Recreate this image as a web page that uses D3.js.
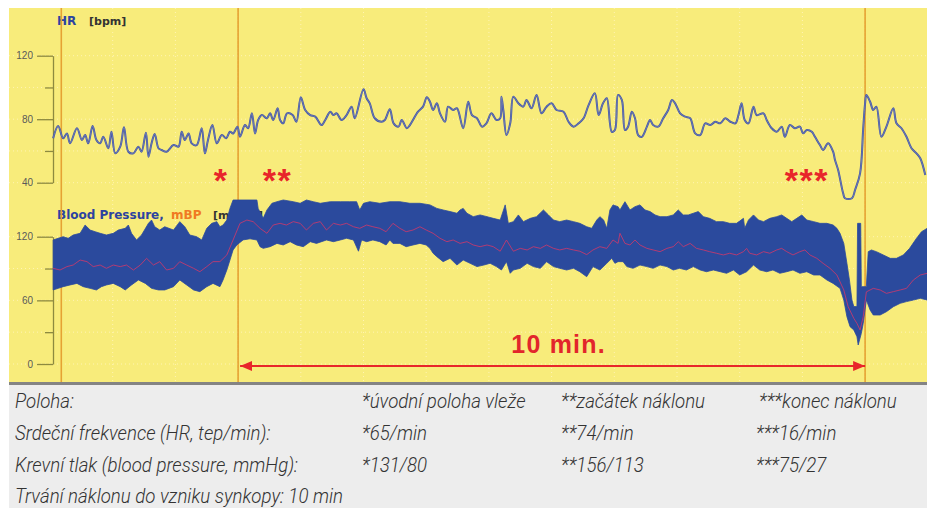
<!DOCTYPE html>
<html lang="cs">
<head>
<meta charset="UTF-8">
<title>Tilt test – HR a krevní tlak</title>
<style>
    html, body { margin: 0; padding: 0; background: #fff; }
    svg { display: block; font-family: "Liberation Sans", Arial, sans-serif; }
    .axis path, .axis line { stroke: #8d8a3f; stroke-width: 1.3; }
    .axis text { fill: #5a5a5a; font-size: 10px; font-family: "Liberation Sans", Arial, sans-serif; }
    .lbl { font-family: "DejaVu Sans", sans-serif; font-weight: bold; }
    .table text { font-family: Roboto, "Open Sans", sans-serif; font-style: italic; font-weight: 300; font-size: 20px; fill: #333; }
</style>
</head>
<body>
<svg id="svg" width="927" height="508"></svg>
<script src="https://d3js.org/d3.v7.min.js"></script>
<script>
// time in minutes from start of recording
const hrTime = [0.05,0.13,0.21,0.27,0.32,0.43,0.51,0.56,0.61,0.68,0.74,0.80,0.85,0.93,0.98,1.04,1.12,1.18,1.25,1.33,1.41,1.46,1.53,1.57,1.62,1.67,1.73,1.78,1.86,1.97,2.05,2.10,2.15,2.21,2.26,2.34,2.42,2.47,2.52,2.59,2.66,2.74,2.81,2.87,2.92,2.99,3.03,3.11,3.16,3.22,3.27,3.32,3.38,3.46,3.51,3.56,3.63,3.67,3.72,3.78,3.87,3.93,4.00,
    4.07,4.15,4.23,4.33,4.39,4.47,4.52,4.57,4.65,4.73,4.81,4.86,5.00,5.05,5.10,5.18,5.29,5.34,5.42,5.48,5.56,5.61,5.69,5.74,5.87,5.95,6.01,6.06,6.11,6.17,6.22,6.30,6.35,6.43,6.49,6.59,6.67,6.73,6.81,6.89,6.96,7.04,7.12,7.18,7.20,7.23,7.28,7.34,7.39,7.47,7.55,7.60,7.68,7.76,7.84,7.92,8.00,8.08,8.19,8.27,8.35,8.43,8.51,8.59,8.69,8.75,8.82,8.88,8.96,9.01,
    9.06,9.12,9.17,9.22,9.28,9.33,9.38,9.44,9.52,9.57,9.62,9.70,9.78,9.86,9.92,9.97,10.05,10.13,10.21,10.29,10.37,10.45,10.53,10.61,10.69,10.77,10.85,10.93,10.98,11.03,11.08,11.14,11.22,11.27,11.38,11.43,11.51,11.59,11.67,11.72,11.80,11.88,11.96,12.01,12.07,12.15,12.20,12.28,12.33,12.41,12.49,12.52,12.57,12.65,12.68,12.79,12.84,12.92,12.97,13.00,13.02,13.08,13.13,13.18,13.26,13.34,13.45,13.50,13.58,13.66,13.74,13.82,13.88,13.96];
const hrValues = [68,75.7,68,71,64.8,74.3,66.9,70,64.8,75.7,66.9,64.8,69,61.7,72.1,58.5,62.7,74.9,59.5,58.5,62.7,59.5,71.5,56.4,64.8,70.7,61.7,60.6,59.5,63.7,62.7,72.1,66.9,71,64.8,63.7,74.3,58.5,66.9,76.3,64.8,70,68,72.1,71,75.3,69,76.3,74.3,83.7,71,79.5,82.6,80.6,83.7,79.5,86.9,79.5,77.4,83.7,82.6,78.4,93.8,
    85.8,82.6,81.6,76.3,79.5,84.7,82.6,83.7,79.5,82.6,87.9,80.6,98.8,93.2,90,80.6,78.4,79.5,86.2,77.4,75.3,79.5,74.3,76.3,84.7,87.9,93.8,91,85.8,90,83.7,78.4,87.9,85.8,86.9,74.3,91,82.6,80.6,75.3,77.4,83.7,79.5,80.6,94.2,85.8,70,77.4,94.2,90,87.9,92.1,86.9,95.2,83.7,87.9,90,85.8,84.7,78.4,75.3,77.4,80.6,88.9,96.3,82.6,90,93.2,72.1,73.2,
    95.2,92.1,73.2,75.3,84.7,80.6,70,68.9,75.3,79.5,76.3,75.3,80.6,85.8,92.1,90,83.7,81.6,80.6,71.1,70,77.4,76.3,78.4,77.4,80.6,78.4,77.4,82.6,90,79.5,77.4,87.9,82.6,83.7,79.5,74.3,72.1,75.3,68.9,76.3,74.3,75.3,71.1,73.2,72.1,68.9,63.7,60.6,64.8,59.5,54.3,48,33.3,30.2,30.2,35.4,45.9,74.3,90,95.2,91,85.8,87.9,68.9,75.3,86.9,77.4,74.3,68.9,61.7,58.5,55.4,44.8];

// systolic envelope
const sysTime = [0.05,0.13,0.21,0.29,0.37,0.48,0.56,0.64,0.72,0.80,0.90,1.01,1.09,1.20,1.25,1.30,1.38,1.46,1.57,1.62,1.67,1.75,1.83,1.97,2.07,2.15,2.23,2.34,2.42,2.50,2.58,2.66,2.71,2.76,2.82,2.87,2.92,3.30,3.32,3.40,3.46,3.54,3.62,3.72,3.88,3.99,4.09,4.20,4.31,
    4.47,4.63,4.78,4.89,4.94,5.00,5.10,5.26,5.42,5.58,5.74,5.90,6.06,6.17,6.27,6.38,6.49,6.54,6.59,6.65,6.75,6.86,6.97,7.07,7.18,7.26,7.31,7.39,7.47,7.55,7.66,7.76,7.87,7.95,8.03,8.13,8.24,8.35,8.45,8.56,8.64,8.72,8.77,8.83,8.88,8.93,8.98,9.06,
    9.09,9.17,9.25,9.33,9.41,9.49,9.57,9.65,9.73,9.84,9.94,10.02,10.10,10.18,10.26,10.34,10.42,10.52,10.63,10.74,10.84,10.95,11.06,11.08,11.14,11.22,11.30,11.38,11.48,11.59,11.67,11.75,11.83,11.91,11.99,12.07,12.18,12.28,12.39,12.49,12.55,12.60,12.66,12.71,12.75,12.79,12.82,12.87,12.88,12.93,12.94,13.02,13.05,13.10,13.18,13.29,13.40,13.50,13.61,13.71,13.82,13.90,13.99];
const sysValues = [116.9,118.5,120,118.5,121.6,123.2,131,126.3,124.7,123.2,121.6,123.2,126.3,127.9,131,123.2,116.9,121.6,132.6,135.7,129.4,126.3,129.4,126.3,134.2,129.4,121.6,120,116.9,127.9,132.6,134.2,129.4,131,135.7,146.7,154.6,154.6,146.7,137.3,145.2,151.5,153,154.6,153,151.5,154.6,153,151.5,
    153,153,153,153,145.2,151.5,153,151.5,153,153,151.5,151.5,150,146.7,145.2,143.7,142.1,145.2,146.7,142.1,138.9,140.5,138.9,137.3,135.7,150,132.6,134.2,140.5,134.2,137.3,138.9,145.2,140.5,135.7,134.2,135.7,134.2,132.6,129.4,127.9,135.7,138.9,135.7,127.9,145.2,150,148.3,
    145.2,153,145.2,148.3,150,145.2,143.7,140.5,138.9,138.9,140.5,145.2,140.5,140.5,142.1,143.7,138.9,137.3,134.2,134.2,132.6,132.6,137.3,127.9,135.7,140.5,135.7,134.2,137.3,138.9,140.5,137.3,134.2,137.3,140.5,135.7,134.2,132.6,132.6,131,127.9,123.2,113.7,94.9,79.2,60.3,54.1,54.1,132.6,132.6,72.9,72.9,105.9,107.5,105.9,102.8,99.6,99.6,102.8,109,118.5,124.7,127.9];

// diastolic envelope
const diaTime = [0.05,0.13,0.21,0.32,0.43,0.53,0.64,0.74,0.82,0.90,1.01,1.12,1.20,1.30,1.41,1.52,1.62,1.73,1.83,1.97,2.07,2.18,2.29,2.39,2.50,2.60,2.71,2.76,2.82,2.87,2.92,2.98,3.08,3.19,3.30,3.35,3.40,3.51,3.62,3.72,3.83,3.93,4.04,4.15,4.25,
    4.41,4.52,4.63,4.73,4.84,4.92,4.97,5.05,5.15,5.26,5.36,5.42,5.47,5.58,5.68,5.79,5.90,6.00,6.06,6.11,6.17,6.27,6.38,6.49,6.59,6.70,6.81,6.92,7.02,7.12,7.20,7.28,7.34,7.39,7.50,7.61,7.71,7.82,7.92,8.03,8.13,8.24,8.35,8.45,8.56,8.66,8.77,8.88,8.96,9.01,9.06,
    9.14,9.20,9.30,9.41,9.52,9.62,9.73,9.84,9.94,10.04,10.15,10.26,10.37,10.47,10.58,10.69,10.79,10.90,11.00,11.11,11.22,11.32,11.43,11.53,11.64,11.75,11.85,11.96,12.07,12.18,12.28,12.39,12.49,12.60,12.66,12.71,12.76,12.82,12.87,12.89,12.94,12.97,13.02,13.08,13.13,13.24,13.34,13.45,13.56,13.66,13.77,13.88,13.99];
const diaValues = [69.8,71.3,72.9,74.5,76,72.9,71.3,69.8,72.9,74.5,76,72.9,69.8,74.5,79.2,76,71.3,69.8,69.8,72.9,79.2,74.5,69.8,68.2,72.9,76,72.9,79.2,88.6,98,107.5,112.2,117,118,116.9,110.6,109,110.6,113.7,112.2,115.3,112.2,110.6,115.3,113.7,
    116.9,115.3,116.9,118.5,116.9,106.3,116.9,115.3,116.9,115.3,112.2,116.9,113.7,113.7,110.6,112.2,113.7,112.2,109,104.4,101.2,96.5,99.6,93.3,98,94.9,91.8,93.3,94.9,91.8,88.6,96.5,85.5,88.6,90.2,94.9,91.8,90.2,96.5,91.8,90.2,88.6,90.2,87,82.3,91.8,88.6,94.9,99.6,94.9,96.5,
    96.5,91.8,90.2,93.3,91.8,90.2,93.3,91.8,88.6,90.2,88.6,91.8,88.6,87,88.6,87,85.5,88.6,83.9,87,93.3,88.6,87,88.6,85.5,87,88.6,85.5,87,83.9,83.9,79.2,76,71.3,60.3,44.6,35.2,32.1,25.8,17.9,28.9,38.3,60.3,50.9,46.2,46.2,49.3,54,57.2,58.8,60.3,61.9,60.3];

// mean blood pressure
const mbpTime = [0.05,0.16,0.27,0.37,0.48,0.59,0.69,0.80,0.90,1.01,1.12,1.22,1.33,1.44,1.54,1.65,1.75,1.86,1.97,2.07,2.18,2.29,2.39,2.50,2.60,2.71,2.82,2.92,3.03,3.14,3.24,3.35,3.46,3.56,3.67,3.77,3.88,3.99,4.09,4.20,4.31,
    4.41,4.52,4.63,4.73,4.84,4.94,5.05,5.15,5.26,5.36,5.47,5.58,5.68,5.79,5.90,6.00,6.11,6.22,6.33,6.43,6.54,6.65,6.75,6.86,6.97,7.07,7.18,7.28,7.39,7.50,7.61,7.71,7.82,7.92,8.03,8.13,8.24,8.35,8.45,8.56,8.66,8.77,8.88,8.98,9.06,
    9.09,9.17,9.25,9.33,9.41,9.52,9.62,9.73,9.84,9.94,10.02,10.10,10.21,10.31,10.42,10.52,10.63,10.74,10.84,10.95,11.06,11.11,11.16,11.27,11.38,11.48,11.59,11.67,11.75,11.85,11.96,12.04,12.12,12.23,12.33,12.44,12.55,12.66,12.73,12.82,12.87,12.92,12.97,13.02,13.13,13.24,13.34,13.45,13.56,13.66,13.77,13.88,13.99];
const mbpValues = [90.2,88.6,91.8,93.3,98,96.5,91.8,93.3,90.2,93.3,91.8,93.3,88.6,93.3,99.6,93.3,96.5,88.6,90.2,96.5,93.3,90.2,87,91.8,96.5,96.5,102.8,116.9,132.6,135.7,134.2,127.9,123.2,131,132.6,131,134.2,132.6,126.3,132.6,134.2,
    126.3,132.6,131,132.6,129.4,127.9,131,129.4,127.9,124.7,132.6,127.9,124.7,126.3,129.4,126.3,123.2,118.5,115.3,116.9,113.7,115.3,112.2,110.6,112.2,110.6,106.3,116.9,106.3,109,107.5,110.6,109,112.2,109,107.5,109,107.5,106.3,103.1,107.5,110.6,109,116.9,113.7,
    123.2,113.7,112.2,116.9,112.2,109,107.5,105.9,109,110.6,115.3,110.6,113.7,109,107.5,105.9,104.4,102.8,104.4,102.8,105.9,109,104.4,102.8,105.9,104.4,107.5,109,105.9,102.8,105.9,107.5,102.8,99.6,94.9,90.2,83.9,69.8,54,43,38.3,32.1,44.6,68,71.3,69.8,66.6,68.2,69.8,71.3,79.2,83.9,85.5];

const hrTicks = [40, 80, 120];
const hrMinorTicks = [60, 100];
const bpTicks = [0, 60, 120];
const bpMinorTicks = [30, 90];

const markerTimes = [0.18, 3, 13];      // orange event lines
const tiltStart = 3, tiltEnd = 13;
const starTimes = [2.73, 3.63, 12.07];
const starLabels = ["*", "**", "***"];

const tableRows = [
    ["Poloha:", "*úvodní poloha vleže", "**začátek náklonu", "***konec náklonu"],
    ["Srdeční frekvence (HR, tep/min):", "*65/min", "**74/min", "***16/min"],
    ["Krevní tlak (blood pressure, mmHg):", "*131/80", "**156/113", "***75/27"],
    ["Trvání náklonu do vzniku synkopy: 10 min"]
];

const svg = d3.select('#svg');

const plot = { left: 9, top: 8, right: 927, bottom: 382 };

const x = d3.scaleLinear().domain([0, 14]).range([50, 927.8]);
const hrY = d3.scaleLinear().domain([40, 120]).range([182.7, 55.7]);
const bpY = d3.scaleLinear().domain([0, 120]).range([364, 236.7]);

// backgrounds
svg.append('rect')
    .attr('x', plot.left).attr('y', plot.top)
    .attr('width', plot.right - plot.left).attr('height', plot.bottom - plot.top)
    .attr('fill', '#f8ec7b');
svg.append('rect')
    .attr('x', plot.left).attr('y', plot.bottom + 3)
    .attr('width', plot.right - plot.left).attr('height', 508 - plot.bottom - 3)
    .attr('fill', '#ededed');
svg.append('rect')
    .attr('x', plot.left).attr('y', plot.bottom)
    .attr('width', plot.right - plot.left).attr('height', 3)
    .attr('fill', '#848484');

// faint dotted grid
const grid = svg.append('g')
    .attr('stroke', '#fff4b4').attr('stroke-width', 1).attr('stroke-dasharray', '1,3');
grid.selectAll('.hg').data(d3.range(40, 121, 20)).join('line')
    .attr('x1', plot.left).attr('x2', plot.right)
    .attr('y1', d => hrY(d)).attr('y2', d => hrY(d));
grid.selectAll('.bg').data(d3.range(0, 121, 30)).join('line')
    .attr('x1', plot.left).attr('x2', plot.right)
    .attr('y1', d => bpY(d)).attr('y2', d => bpY(d));
grid.selectAll('.vg').data(d3.range(1, 14, 1)).join('line')
    .attr('x1', d => x(d)).attr('x2', d => x(d))
    .attr('y1', plot.top).attr('y2', plot.bottom);

// axes
function drawAxis(scale, major, minor) {
    svg.append('g')
        .attr('class', 'axis')
        .attr('transform', 'translate(53,0)')
        .call(d3.axisLeft(scale).tickValues(major).tickSize(16).tickSizeOuter(0).tickPadding(4))
        .call(g => g.select('.domain').attr('fill', 'none'));
    svg.append('g')
        .attr('class', 'axis')
        .attr('transform', 'translate(53,0)')
        .call(d3.axisLeft(scale).tickValues(minor).tickSize(8).tickFormat(''))
        .call(g => g.select('.domain').remove());
}
drawAxis(hrY, hrTicks, hrMinorTicks);
drawAxis(bpY, bpTicks, bpMinorTicks);

// channel labels
const hrLbl = svg.append('text').attr('class', 'lbl').attr('x', 57).attr('y', 25);
hrLbl.append('tspan').attr('fill', '#2c43a0').attr('font-size', 12).text('HR');
hrLbl.append('tspan').attr('x', 89).attr('fill', '#333').attr('font-size', 11).text('[bpm]');

const bpLbl = svg.append('text').attr('class', 'lbl').attr('x', 57).attr('y', 219);
bpLbl.append('tspan').attr('fill', '#2c43a0').attr('font-size', 12).text('Blood Pressure,');
bpLbl.append('tspan').attr('x', 171).attr('fill', '#f07a22').attr('font-size', 12).text('mBP');
bpLbl.append('tspan').attr('x', 213).attr('fill', '#333').attr('font-size', 11).text('[mmHg]');

// orange event lines
svg.selectAll('.marker').data(markerTimes).join('line')
    .attr('x1', d => x(d)).attr('x2', d => x(d))
    .attr('y1', plot.top).attr('y2', plot.bottom)
    .attr('stroke', '#e5a233').attr('stroke-width', 1.6);

// blood pressure band (systolic forward, diastolic back)
const upper = d3.zip(sysTime, sysValues);
const lower = d3.zip(diaTime, diaValues).reverse();
const bandLine = d3.line().x(d => x(d[0])).y(d => bpY(d[1]));
svg.append('path')
    .attr('d', bandLine(upper.concat(lower)) + 'Z')
    .attr('fill', '#2b4a9d')
    .attr('stroke', '#2b4a9d')
    .attr('stroke-width', 0.8)
    .attr('stroke-linejoin', 'round');

// mean BP
svg.append('path')
    .attr('d', bandLine(d3.zip(mbpTime, mbpValues)))
    .attr('fill', 'none')
    .attr('stroke', '#c9386c')
    .attr('stroke-width', 1)
    .attr('opacity', 0.85);

// heart rate
const hrLine = d3.line()
    .x(d => x(d[0])).y(d => hrY(d[1]))
    .curve(d3.curveCatmullRom.alpha(0.5));
svg.append('path')
    .attr('d', hrLine(d3.zip(hrTime, hrValues)))
    .attr('fill', 'none')
    .attr('stroke', '#3f52a8')
    .attr('stroke-width', 2)
    .attr('stroke-linejoin', 'round');
svg.append('path')
    .attr('d', hrLine(d3.zip(hrTime, hrValues)))
    .attr('fill', 'none')
    .attr('stroke', '#8f9ab8')
    .attr('stroke-width', 0.7)
    .attr('opacity', 0.8);

// asterisks
svg.selectAll('.star').data(starTimes).join('text')
    .attr('x', d => x(d))
    .attr('y', hrY(46.5))
    .attr('dy', 19.5)
    .attr('text-anchor', 'middle')
    .attr('font-size', 34)
    .attr('font-weight', 'bold')
    .attr('letter-spacing', 1.5)
    .attr('fill', '#e8262a')
    .text((d, i) => starLabels[i]);

// 10 min arrow
const defs = svg.append('defs');
defs.append('marker')
    .attr('id', 'head')
    .attr('markerUnits', 'userSpaceOnUse')
    .attr('markerWidth', 13).attr('markerHeight', 11)
    .attr('refX', 12).attr('refY', 5)
    .attr('orient', 'auto-start-reverse')
    .append('path')
    .attr('d', 'M0,0 L12,5 L0,10 Z')
    .attr('fill', '#e8262a');

svg.append('line')
    .attr('x1', x(tiltStart) + 2).attr('x2', x(tiltEnd))
    .attr('y1', 366).attr('y2', 366)
    .attr('stroke', '#e8262a').attr('stroke-width', 2)
    .attr('marker-start', 'url(#head)')
    .attr('marker-end', 'url(#head)');

svg.append('text')
    .attr('x', (x(tiltStart) + x(tiltEnd)) / 2 + 7)
    .attr('y', 353)
    .attr('text-anchor', 'middle')
    .attr('font-size', 25)
    .attr('font-weight', 'bold')
    .attr('letter-spacing', 1.2)
    .attr('fill', '#e2262b')
    .text('10 min.');

// table below the chart
const colX = [15, 362, 561, 756];
const rowY = [408, 440, 471.5, 503];
const table = svg.append('g').attr('class', 'table');
tableRows.forEach((row, r) => {
    row.forEach((cell, c) => {
        table.append('text')
            .attr('x', colX[c] + (r === 0 && c === 3 ? 3 : 0))
            .attr('y', rowY[r])
            .text(cell);
    });
});

// the original typeface is condensed: squeeze all cells by the same factor
const ref = table.selectAll('text').nodes().pop();
const k = 328 / ref.getComputedTextLength();
table.selectAll('text').each(function () {
    const w = this.getComputedTextLength();
    d3.select(this).attr('textLength', w * k).attr('lengthAdjust', 'spacingAndGlyphs');
});
</script>
</body>
</html>
